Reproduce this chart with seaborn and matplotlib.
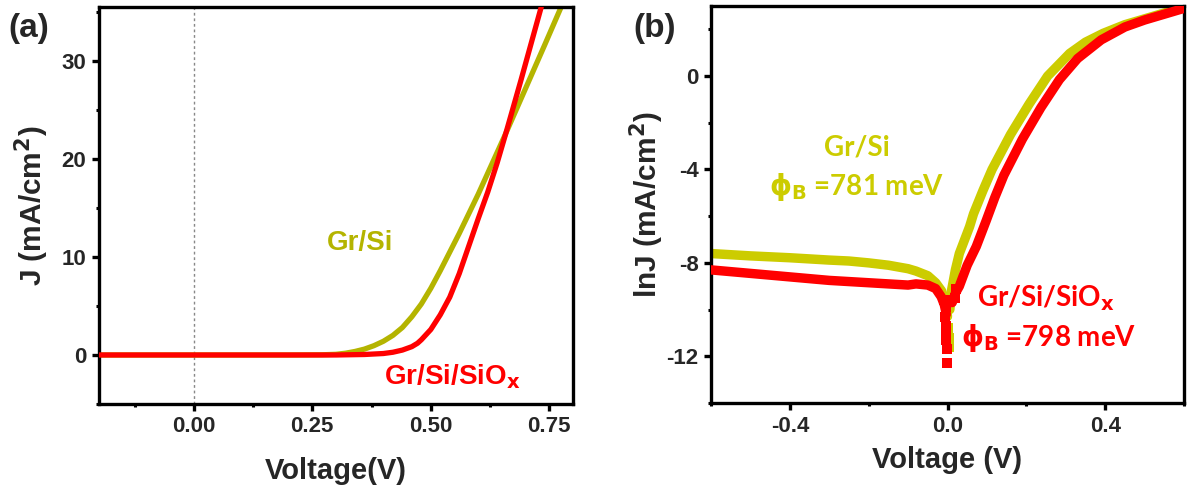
import numpy as np
import pandas as pd
import matplotlib
matplotlib.use("Agg")
import matplotlib.pyplot as plt
import seaborn as sns
from matplotlib.ticker import MultipleLocator

# ---------------- data: panel (a) J-V ----------------
va_grsi = [-0.2, 0.0, 0.2, 0.27, 0.30, 0.32, 0.34, 0.36, 0.38, 0.40, 0.42, 0.44, 0.46,
           0.48, 0.50, 0.52, 0.54, 0.56, 0.58, 0.60, 0.63, 0.66, 0.70, 0.74, 0.775]
ja_grsi = [0, 0, 0, 0.02, 0.07, 0.18, 0.36, 0.6, 0.95, 1.4, 2.0, 2.8, 3.9,
           5.2, 6.8, 8.6, 10.5, 12.4, 14.4, 16.4, 19.6, 22.8, 27.2, 31.6, 35.5]
va_siox = [-0.2, 0.0, 0.2, 0.30, 0.36, 0.40, 0.42, 0.44, 0.46, 0.472, 0.48, 0.50, 0.52,
           0.54, 0.56, 0.58, 0.60, 0.62, 0.64, 0.66, 0.69, 0.733]
ja_siox = [0, 0, 0, 0.0, 0.05, 0.15, 0.28, 0.5, 0.85, 1.2, 1.55, 2.6, 4.1,
           5.9, 8.3, 11.1, 13.9, 16.6, 19.6, 22.9, 28.0, 35.5]

# ---------------- data: panel (b) lnJ-V ----------------
vb_grsi_rev = [-0.6, -0.5, -0.4, -0.3, -0.25, -0.2, -0.15, -0.1, -0.08, -0.05, -0.03, -0.015, -0.005, 0.0]
lb_grsi_rev = [-7.6, -7.7, -7.78, -7.88, -7.92, -8.0, -8.1, -8.25, -8.35, -8.55, -8.85, -9.2, -9.7, -10.3]
vb_grsi_fwd = [0.006, 0.01, 0.02, 0.03, 0.056, 0.066, 0.09, 0.113, 0.16, 0.207, 0.254, 0.31,
               0.35, 0.395, 0.45, 0.49, 0.55, 0.6]
lb_grsi_fwd = [-10.0, -9.2, -8.3, -7.6, -6.45, -5.9, -4.9, -4.0, -2.5, -1.2, 0.0, 0.97,
               1.45, 1.83, 2.2, 2.4, 2.7, 2.95]
vb_grsi_dip = [0.002, 0.003, 0.004]
lb_grsi_dip = [-10.8, -11.2, -11.6]

vb_siox_rev = [-0.6, -0.5, -0.4, -0.3, -0.25, -0.2, -0.15, -0.1, -0.08, -0.05, -0.03, -0.016, -0.008, -0.003]
lb_siox_rev = [-8.3, -8.45, -8.6, -8.75, -8.8, -8.85, -8.9, -8.95, -8.9, -8.95, -9.1, -9.45, -9.8, -10.2]
vb_siox_fwd = [0.012, 0.02, 0.03, 0.05, 0.073, 0.098, 0.12, 0.143, 0.19, 0.237, 0.284, 0.33,
               0.39, 0.45, 0.5, 0.55, 0.6]
lb_siox_fwd = [-9.7, -9.3, -9.0, -8.1, -7.3, -6.2, -5.2, -4.25, -2.7, -1.35, -0.15, 0.75,
               1.55, 2.1, 2.4, 2.65, 2.9]
vb_siox_dip = [-0.01, 0.002, -0.005, -0.007, -0.004, -0.005, -0.003, -0.001, -0.002, 0.018, 0.022]
lb_siox_dip = [-9.6, -9.6, -9.9, -10.3, -10.7, -11.0, -11.3, -11.7, -12.3, -9.5, -9.1]

xticks_a = [0.0, 0.25, 0.5, 0.75]
yticks_a = [0, 10, 20, 30]
xticks_b = [-0.4, 0.0, 0.4]
yticks_b = [-12, -8, -4, 0]

OLIVE = "#b4b400"
YELLOW = "#cccc00"
RED = "#ff0000"

sns.set_style("ticks")
plt.rcParams["font.family"] = ["Liberation Sans", "DejaVu Sans"]
plt.rcParams["font.weight"] = "bold"
plt.rcParams["mathtext.fontset"] = "custom"
plt.rcParams["mathtext.rm"] = "DejaVu Sans:bold"
plt.rcParams["mathtext.bf"] = "DejaVu Sans:bold"
plt.rcParams["mathtext.it"] = "DejaVu Sans:bold"

W, H = 1187, 493
fig = plt.figure(figsize=(W / 100, H / 100), dpi=100)
ax1 = fig.add_axes([99 / W, 89 / H, 474 / W, 397 / H])
ax2 = fig.add_axes([711 / W, 90 / H, 473 / W, 397 / H])


def style_axes(ax):
    for s in ax.spines.values():
        s.set_linewidth(2.4)
        s.set_color("black")
    ax.tick_params(which="major", direction="out", length=5, width=2.4,
                   labelsize=16, pad=4, top=False, right=False, color="black")
    ax.tick_params(which="minor", direction="out", length=2.5, width=2.2,
                   top=False, right=False, color="black")
    for lab in ax.get_xticklabels() + ax.get_yticklabels():
        lab.set_fontweight("bold")


# ---------------- panel (a) ----------------
ax1.axvline(0, color="#888888", lw=1.0, ls=(0, (2, 2)), zorder=1)
sns.lineplot(x=va_grsi, y=ja_grsi, ax=ax1, color=OLIVE, lw=3.8, sort=False, zorder=2)
sns.lineplot(x=va_siox, y=ja_siox, ax=ax1, color=RED, lw=3.8, sort=False, zorder=3)
ax1.set_xlim(-0.2, 0.8)
ax1.set_ylim(-5, 35.5)
ax1.set_xticks(xticks_a)
ax1.set_xticklabels([f"{v:.2f}" for v in xticks_a])
ax1.set_yticks(yticks_a)
ax1.set_yticklabels([str(v) for v in yticks_a])
ax1.xaxis.set_minor_locator(MultipleLocator(0.125))
ax1.yaxis.set_minor_locator(MultipleLocator(5))
ax1.set_xlabel("Voltage(V)", fontsize=21, fontweight="bold", labelpad=14)
ax1.set_ylabel(r"J (mA/cm$^\mathbf{2}$)", fontsize=21.5, fontweight="bold", labelpad=8)
style_axes(ax1)
ax1.text(0.35, 11.4, "Gr/Si", color=OLIVE, fontsize=20, fontweight="bold",
         ha="center", va="center")
ax1.text(0.545, -2.2, r"Gr/Si/SiO$_\mathbf{x}$", color=RED, fontsize=20, fontweight="bold",
         ha="center", va="center")

# ---------------- panel (b) ----------------
sq = dict(marker="s", s=55, linewidth=0)
sns.lineplot(x=vb_grsi_rev, y=lb_grsi_rev, ax=ax2, color=YELLOW, lw=6.8, sort=False, zorder=2)
sns.lineplot(x=vb_grsi_fwd, y=lb_grsi_fwd, ax=ax2, color=YELLOW, lw=6.8, sort=False, zorder=2)
sns.scatterplot(x=vb_grsi_dip, y=lb_grsi_dip, ax=ax2, color=YELLOW, zorder=2, **sq)
sns.lineplot(x=vb_siox_rev, y=lb_siox_rev, ax=ax2, color=RED, lw=6.8, sort=False, zorder=3)
sns.lineplot(x=vb_siox_fwd, y=lb_siox_fwd, ax=ax2, color=RED, lw=6.8, sort=False, zorder=3)
sns.scatterplot(x=vb_siox_dip, y=lb_siox_dip, ax=ax2, color=RED, zorder=3, **sq)
ax2.set_xlim(-0.6, 0.6)
ax2.set_ylim(-14, 3)
ax2.set_xticks(xticks_b)
ax2.set_xticklabels([f"{v:.1f}" for v in xticks_b])
ax2.set_yticks(yticks_b)
ax2.set_yticklabels([str(v) for v in yticks_b])
ax2.xaxis.set_minor_locator(MultipleLocator(0.2))
ax2.yaxis.set_minor_locator(MultipleLocator(2))
ax2.set_xlabel("Voltage (V)", fontsize=21, fontweight="bold", labelpad=7)
ax2.set_ylabel(r"lnJ (mA/cm$^\mathbf{2}$)", fontsize=21.5, fontweight="bold", labelpad=0)
style_axes(ax2)
ax2.text(-0.23, -3.04, "Gr/Si", color=YELLOW, fontsize=20, fontweight="bold",
         family=["Lato", "DejaVu Sans"], ha="center", va="center")
ax2.text(-0.23, -4.75, r"$\mathbf{\phi_B}$ =781 meV", color=YELLOW, fontsize=20,
         fontweight="bold", family=["Lato", "DejaVu Sans"], ha="center", va="center")
ax2.text(0.25, -9.5, r"Gr/Si/SiO$_\mathbf{x}$", color=RED, fontsize=20, fontweight="bold",
         family=["Lato", "DejaVu Sans"], ha="center", va="center")
ax2.text(0.256, -11.2, r"$\mathbf{\phi_B}$ =798 meV", color=RED, fontsize=20,
         fontweight="bold", family=["Lato", "DejaVu Sans"], ha="center", va="center")

fig.text(29 / W, 1 - 28 / H, "(a)", fontsize=24, fontweight="bold", ha="center", va="center")
fig.text(655 / W, 1 - 29 / H, "(b)", fontsize=24, fontweight="bold", ha="center", va="center")

fig.savefig("out.png", dpi=100)
